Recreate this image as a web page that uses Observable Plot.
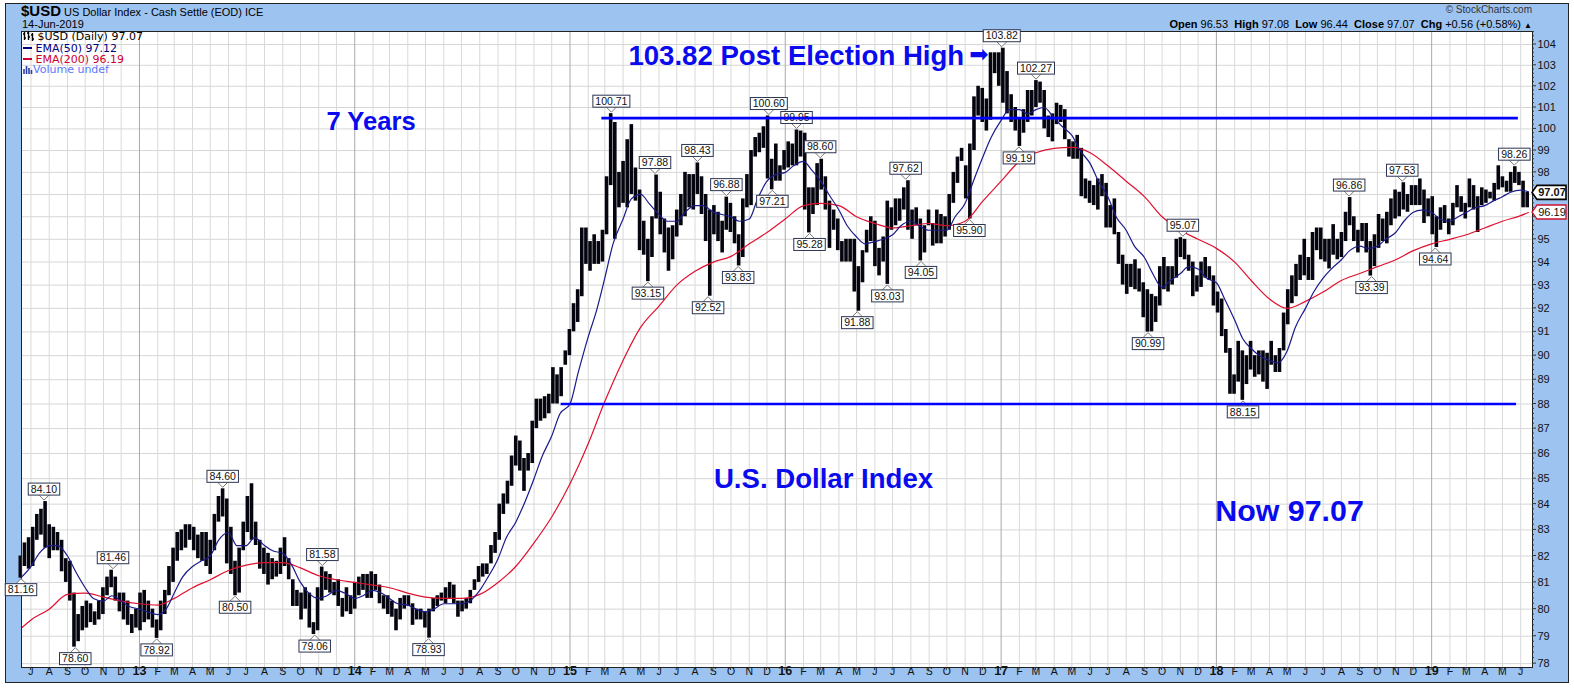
<!DOCTYPE html>
<html>
<head>
<meta charset="utf-8">
<script src="https://cdn.jsdelivr.net/npm/d3@7"></script>
<script src="https://cdn.jsdelivr.net/npm/@observablehq/plot@0.6"></script>
<style>
html,body{margin:0;padding:0;background:#fff;}
#wrap{position:relative;width:1574px;height:688px;overflow:hidden;font-family:"Liberation Sans",Arial,sans-serif;}
#band{position:absolute;left:5px;top:3px;width:1562px;height:678px;background:#9dc3f0;border:1px solid #222;}
#chart{position:absolute;left:0;top:0;}
.hd{position:absolute;white-space:nowrap;color:#000;}
.lg{position:absolute;white-space:nowrap;font-family:"DejaVu Sans",sans-serif;font-size:11px;line-height:11px;}
</style>
</head>
<body>
<div id="wrap">
  <div id="band"></div>
  <div id="chart"></div>
  <div class="hd" style="left:21px;top:3px;font-size:11px;line-height:16px;"><b style="font-size:15px;">$USD</b> US Dollar Index - Cash Settle (EOD) ICE</div>
  <div class="hd" style="left:22px;top:18px;font-size:11px;line-height:13px;">14-Jun-2019</div>
  <div class="hd" style="right:42px;top:4px;font-size:10px;line-height:12px;color:#333;">&#169; StockCharts.com</div>
  <div class="hd" style="right:42px;top:18px;font-size:11px;line-height:13px;"><b>Open</b> 96.53 &nbsp;<b>High</b> 97.08 &nbsp;<b>Low</b> 96.44 &nbsp;<b>Close</b> 97.07 &nbsp;<b>Chg</b> +0.56 (+0.58%) <span style="font-size:8px">&#9650;</span></div>
  <div class="lg" style="left:23px;top:31px;color:#000;"><svg width="11" height="10" style="vertical-align:-1px"><path d="M1.5 1v8M0 3h1.5M1.5 7h1.5M5.5 0v9M4 2h1.5M5.5 6h1.5M9.5 2v8M8 4h1.5M9.5 8h1.5" stroke="#000" stroke-width="1.4" fill="none"/></svg> $USD (Daily) 97.07</div>
  <div class="lg" style="left:23px;top:43px;color:#000080;"><span style="display:inline-block;width:9px;height:2px;background:#000080;vertical-align:3px"></span> EMA(50) 97.12</div>
  <div class="lg" style="left:23px;top:54px;color:#cc0033;"><span style="display:inline-block;width:9px;height:2px;background:#cc0033;vertical-align:3px"></span> EMA(200) 96.19</div>
  <div class="lg" style="left:23px;top:64px;color:#5a78ff;"><svg width="10" height="9" style="vertical-align:-1px"><path d="M1 9V4M3.5 9V1M6 9V3M8.5 9V5" stroke="#2a3ea8" stroke-width="1.6"/></svg>Volume undef</div>
</div>
<script>
const D = (y, m, d) => new Date(Date.UTC(y, m - 1, d));

// ---- tick labels ----
const yTicks = [78,79,80,81,82,83,84,85,86,87,88,89,90,91,92,93,94,95,96,97,98,99,100,101,102,103,104];
const monthLetters = ["J","F","M","A","M","J","J","A","S","O","N","D"];

// ---- weekly low/high of $USD (week ending Friday) ----
const bars2012 = [[81.16,82.0],[81.6,82.5],[81.5,82.7],[81.6,83.1],[82.6,83.6],[82.8,83.8],[82.3,84.10],[81.9,83.2],[82.2,83.1],[82.2,82.9],[81.4,82.6],[81.0,81.9],[80.3,81.8],[78.60,80.6],[78.8,79.8],[79.2,80.1],[79.3,80.3],[79.5,80.2],[79.4,79.9],[79.6,80.3],[79.8,80.8],[80.5,81.2],[80.8,81.46],[80.3,81.2],[79.9,80.6],[79.6,80.6],[79.4,80.3],[79.1,79.8],[79.3,80.0]];
const bars2013 = [[79.2,80.6],[79.5,80.7],[79.6,80.3],[79.3,80.0],[78.92,79.6],[79.2,80.3],[79.8,80.7],[80.5,81.6],[81.0,82.3],[81.8,82.9],[82.2,83.0],[82.3,83.2],[82.6,83.2],[82.2,83.1],[81.9,82.8],[81.8,82.9],[81.6,82.9],[81.3,82.6],[82.2,83.6],[83.3,84.3],[83.5,84.60],[81.7,84.2],[81.3,83.1],[80.50,81.8],[80.6,82.3],[82.2,83.3],[82.9,84.3],[82.6,84.8],[82.4,83.3],[81.5,82.6],[81.3,82.3],[80.9,82.1],[81.1,81.9],[81.2,81.8],[81.3,82.3],[81.6,82.7],[81.1,81.9],[80.1,81.1],[80.1,80.7],[79.6,80.6],[80.0,80.8],[79.3,80.6],[79.06,79.5],[79.2,80.8],[80.3,81.58],[80.7,81.4],[80.6,81.3],[80.5,81.0],[80.1,81.1],[79.7,80.4],[79.9,80.8],[79.8,80.5]];
const bars2014 = [[80.0,81.0],[80.5,81.2],[80.7,81.3],[80.4,81.3],[80.4,81.4],[80.7,81.3],[80.2,80.9],[80.0,80.5],[79.8,80.5],[79.7,80.3],[79.2,80.0],[79.6,80.4],[80.0,80.5],[80.1,80.5],[79.4,80.2],[79.6,80.0],[79.6,80.0],[79.3,79.9],[78.93,80.0],[79.9,80.4],[80.1,80.5],[80.3,80.6],[80.2,80.8],[80.4,81.0],[80.2,80.9],[79.7,80.3],[79.9,80.3],[80.0,80.4],[80.2,80.7],[80.7,81.1],[81.0,81.6],[81.2,81.7],[81.3,81.7],[81.7,82.4],[82.1,82.9],[82.6,84.0],[83.6,84.4],[84.0,84.9],[84.7,85.9],[85.5,86.7],[85.3,86.5],[84.5,85.8],[85.3,86.0],[85.6,87.3],[87.0,88.2],[87.3,88.2],[87.4,88.3],[87.6,88.4],[88.0,89.5],[88.0,89.2],[88.3,89.5],[89.6,90.2]];
const bars2015 = [[90.0,91.1],[91.0,92.2],[91.4,92.8],[92.5,95.5],[93.9,95.5],[93.6,94.9],[93.9,95.2],[93.9,94.9],[94.0,95.4],[95.2,97.8],[97.4,100.71],[95.0,100.3],[96.4,98.0],[96.6,98.5],[96.4,99.5],[97.0,100.2],[96.7,98.2],[94.5,97.2],[94.3,95.8],[93.15,95.0],[94.2,96.0],[95.9,97.88],[95.2,97.1],[94.4,95.9],[93.6,95.5],[94.1,95.6],[95.1,96.3],[95.6,97.0],[96.0,98.0],[96.4,97.9],[96.3,97.9],[97.0,98.43],[96.1,97.8],[94.9,97.0],[92.52,96.3],[95.2,96.5],[94.9,96.2],[94.4,95.8],[95.4,96.88],[95.3,96.6],[94.8,96.0],[93.83,95.2],[94.2,96.8],[96.4,97.9],[96.5,99.0],[98.7,99.6],[98.9,99.8],[99.1,100.1],[97.7,100.60],[97.21,98.6],[97.6,99.3],[97.6,98.3]];
const bars2016 = [[98.1,99.0],[98.2,99.4],[98.3,99.3],[98.3,99.95],[98.7,99.9],[96.3,99.8],[95.28,97.3],[96.1,97.3],[96.5,98.4],[97.2,98.60],[96.3,97.8],[94.6,96.7],[95.4,96.3],[94.5,95.9],[94.0,94.9],[94.0,95.0],[94.0,95.0],[92.7,95.0],[91.88,93.8],[93.1,94.5],[94.4,95.4],[94.9,96.0],[93.8,95.8],[93.4,94.6],[94.0,95.1],[93.03,96.7],[95.4,96.4],[95.6,96.8],[95.8,96.8],[96.3,97.3],[95.4,97.62],[95.0,96.3],[95.6,96.4],[94.05,95.9],[94.4,95.6],[95.6,96.3],[94.7,95.7],[94.8,96.3],[94.8,96.1],[95.1,96.0],[95.4,97.0],[96.6,98.0],[97.5,98.7],[98.5,99.1],[96.8,98.3],[95.90,99.3],[99.0,101.5],[100.6,102.0],[100.3,101.9],[99.9,101.4],[100.4,103.6],[102.6,103.6],[102.0,103.6]];
const bars2017 = [[101.2,103.82],[100.7,102.7],[100.3,101.6],[99.9,101.0],[99.19,100.5],[99.8,100.9],[100.3,101.8],[100.6,101.8],[101.0,102.27],[101.2,102.2],[100.0,101.8],[99.6,100.6],[99.4,100.7],[100.2,101.2],[100.3,101.1],[99.5,100.9],[98.7,99.5],[98.6,99.4],[98.6,99.7],[96.9,99.1],[96.8,97.7],[96.6,97.6],[96.5,97.4],[96.3,97.7],[96.9,97.9],[95.5,97.5],[95.5,96.5],[95.2,96.8],[93.9,95.3],[93.0,94.3],[92.6,93.9],[92.9,93.9],[92.8,94.1],[92.7,93.7],[91.6,93.1],[90.99,92.8],[91.0,92.6],[91.4,92.5],[92.1,93.8],[92.8,94.2],[92.7,93.8],[93.0,93.8],[93.3,95.0],[94.2,95.07],[94.1,95.0],[93.6,94.3],[92.5,94.0],[92.7,93.4],[92.9,94.0],[93.3,94.2],[93.2,93.8],[92.1,93.4]];
const bars2018 = [[91.8,92.7],[90.8,92.4],[90.1,91.1],[88.4,90.3],[88.4,89.2],[88.9,90.6],[88.15,90.2],[88.8,90.0],[89.4,90.6],[89.1,90.0],[89.2,90.2],[88.9,90.2],[88.6,90.1],[89.6,90.6],[89.3,90.0],[89.3,90.3],[90.2,91.8],[91.3,92.8],[92.2,93.4],[92.5,93.9],[93.2,94.3],[93.4,95.0],[93.2,94.2],[93.2,95.3],[94.5,95.5],[94.1,95.5],[94.0,95.0],[93.7,95.0],[94.3,95.65],[94.1,95.0],[94.2,95.3],[94.9,96.2],[95.6,96.86],[94.9,96.0],[94.4,95.4],[94.9,95.7],[94.4,95.7],[93.39,94.9],[93.8,95.2],[94.6,96.1],[94.9,95.9],[94.8,96.2],[95.6,96.8],[95.9,97.2],[96.0,97.1],[96.3,97.53],[96.2,97.0],[96.5,97.4],[96.5,97.4],[96.5,97.7],[95.7,97.2],[96.0,96.8]];
const bars2019 = [[95.2,96.9],[94.64,96.0],[95.4,96.4],[95.7,96.5],[95.2,95.9],[95.6,96.6],[96.4,97.4],[96.2,96.9],[95.9,96.6],[96.4,97.7],[96.3,97.4],[95.3,96.9],[96.5,97.3],[96.6,97.2],[96.8,97.1],[96.7,97.5],[97.2,98.3],[97.3,97.8],[97.1,97.6],[97.1,98.0],[97.5,98.26],[97.4,98.0],[96.4,97.6],[96.4,97.1]];

// ---- EMA(50): 15-Jun-2012, then 1st & 15th of each month, last 14-Jun-2019 ----
const ema50 = [81.2,
  81.6,82.1, 82.4,82.4, 82.0,81.4, 80.8,80.4, 80.3,80.5, 80.3,80.1,
  80.0,79.9, 79.8,80.0, 80.6,81.2, 81.6,81.8, 82.0,82.6, 82.9,82.4, 82.4,82.7, 82.4,82.2, 82.1,81.7, 81.0,80.6, 80.4,80.5, 80.7,80.6,
  80.4,80.5, 80.7,80.6, 80.4,80.2, 80.15,80.0, 79.9,80.0, 80.2,80.2, 80.2,80.3, 80.7,81.2, 81.9,82.7, 83.3,84.0, 85.0,85.9, 86.7,87.6,
  88.0,89.3, 90.8,91.9, 93.3,94.8, 95.9,96.8, 97.0,96.6, 96.1,95.8, 95.8,96.2, 96.5,96.5, 96.2,96.1, 96.0,95.8, 95.9,96.8, 97.6,97.9,
  98.0,98.3, 98.5,98.1, 97.6,97.0, 96.3,95.6, 95.1,94.8, 94.9,95.0, 95.2,95.6, 95.8,95.6, 95.4,95.4, 95.4,96.0, 96.6,97.6, 98.7,99.6,
  100.4,100.9, 100.9,100.7, 100.9,101.0, 100.5,100.1, 99.7,99.0, 98.4,97.6, 96.9,96.0, 95.4,94.7, 94.2,93.5, 92.9,93.2, 93.5,93.8, 93.7,93.3,
  93.1,92.4, 91.5,90.7, 90.3,90.0, 89.8,89.7, 90.2,91.2, 92.0,92.7, 93.3,93.7, 94.1,94.5, 94.7,94.6, 94.7,95.0, 95.3,95.8, 96.2,96.3,
  96.2,95.9, 95.8,96.0, 96.2,96.4, 96.5,96.7, 96.9,97.1, 97.2,97.12];

// ---- EMA(200): 15-Jun-2012, then 1st of each month, last 14-Jun-2019 ----
const ema200 = [79.3,
  79.6,80.0,80.55,80.6,80.45,80.3,
  80.2,80.15,80.4,80.8,81.1,81.45,81.65,81.75,81.75,81.55,81.25,81.1,
  81.0,80.9,80.8,80.6,80.45,80.4,80.4,80.55,81.0,81.6,82.5,83.5,
  84.8,86.4,88.1,89.8,91.2,92.1,93.0,93.6,94.0,94.25,94.8,95.3,
  95.9,96.5,96.6,96.5,96.0,95.7,95.5,95.6,95.7,95.6,95.8,96.7,
  97.6,98.5,98.9,99.1,99.15,98.9,98.3,97.6,96.9,96.0,95.4,95.0,
  94.6,94.0,93.2,92.4,92.0,92.3,92.7,93.2,93.5,93.8,94.1,94.5,
  94.8,95.0,95.2,95.5,95.8,96.05,
  96.19];

// ---- labelled highs / lows ----
const peakDates = ["2012-06-15","2012-07-24","2012-09-15","2012-11-18","2013-01-31","2013-05-23","2013-06-13","2013-10-26","2013-11-08","2014-05-07","2015-03-13","2015-05-14","2015-05-26","2015-08-06","2015-08-24","2015-09-24","2015-10-14","2015-12-05","2015-12-11","2016-01-21","2016-02-12","2016-03-01","2016-05-03","2016-06-23","2016-07-24","2016-08-19","2016-11-09","2017-01-03","2017-02-01","2017-03-02","2017-09-08","2017-11-06","2018-02-16","2018-08-15","2018-09-22","2018-11-13","2019-01-08","2019-05-22"];
const peakValues = [81.16,84.10,78.60,81.46,78.92,84.60,80.50,79.06,81.58,78.93,100.71,93.15,97.88,98.43,92.52,96.88,93.83,100.60,97.21,99.95,95.28,98.60,91.88,93.03,97.62,94.05,95.90,103.82,99.19,102.27,90.99,95.07,88.15,96.86,93.39,97.53,94.64,98.26];
const peakSide = ["b","a","b","a","b","a","b","b","a","b","a","b","a","a","b","a","b","a","b","a","b","a","b","b","a","b","b","a","b","a","b","a","b","a","b","a","b","a"];

// ---- trend lines ----
const levelValues = [100.5, 88.0];
const levelStart = ["2015-02-24", "2014-12-17"];
const levelEnd = ["2019-05-28", "2019-05-25"];

// ---- annotations ----
const annoText = ["103.82 Post Election High", "7 Years", "U.S. Dollar Index", "Now 97.07"];
const annoDate = ["2015-04-10", "2013-11-14", "2015-09-02", "2017-12-30"];
const annoValue = [103.42, 100.34, 84.97, 83.71];
const annoSize = [27.6, 25.6, 27.6, 30.4];
const arrowDate = "2016-11-08";
const arrowValue = 103.5;

const lastClose = 97.07;
const lastEma200 = 96.19;

// ---- build tables ----
const fridays = d3.utcFriday.range(D(2012,6,15), D(2019,6,15));
const allBars = [...bars2012, ...bars2013, ...bars2014, ...bars2015, ...bars2016, ...bars2017, ...bars2018, ...bars2019];
if (allBars.length !== fridays.length) throw new Error("bars " + allBars.length + " vs weeks " + fridays.length);
const bars = allBars.map((p, i) => ({date: d3.utcDay.offset(fridays[i], -2), lo: p[0], hi: p[1]}));

const months = d3.utcMonth.range(D(2012,7,1), D(2019,7,1));
const ema50Dates = [D(2012,6,15)];
for (const m of months) { ema50Dates.push(m); ema50Dates.push(d3.utcDay.offset(m, 14)); }
ema50Dates[ema50Dates.length - 1] = D(2019,6,14);
const ema200Dates = [D(2012,6,15), ...months, D(2019,6,14)];
if (ema50.length !== ema50Dates.length) throw new Error("ema50 " + ema50.length + " vs " + ema50Dates.length);
if (ema200.length !== ema200Dates.length) throw new Error("ema200 " + ema200.length + " vs " + ema200Dates.length);
const ema50Data = ema50.map((v, i) => ({date: ema50Dates[i], v}));
const ema200Data = ema200.map((v, i) => ({date: ema200Dates[i], v}));

const levels = levelValues.map((v, i) => ({y: v, x1: new Date(levelStart[i]), x2: new Date(levelEnd[i])}));
const annos = annoText.map((t, i) => ({t, date: new Date(annoDate[i]), v: annoValue[i], size: annoSize[i]}));
const peaks = peakValues.map((v, i) => ({date: new Date(peakDates[i]), v, side: peakSide[i]}));

const monthStarts = months;
const janStarts = months.filter(m => m.getUTCMonth() === 0);
const otherStarts = months.filter(m => m.getUTCMonth() !== 0);
// axis labels hidden behind the last-value boxes (as on the reference)
const shownTicks = yTicks.filter(t => Math.abs(Math.log(t / lastClose)) > 0.0035 && Math.abs(Math.log(t / lastEma200)) > 0.0035);

function overlay(index, scales, values, dims) {
  const x = scales.x, y = scales.y;
  const g = d3.create("svg:g");
  const bottom = dims.height - dims.marginBottom;
  const right = dims.width - dims.marginRight;
  for (const m of monthStarts) {
    g.append("line").attr("x1", x(m)).attr("x2", x(m)).attr("y1", bottom).attr("y2", bottom + 3)
      .attr("stroke", "#333").attr("stroke-width", 1);
  }
  for (let k = 780; k <= 1046; k += 2) {
    const yy = y(k / 10);
    const major = k % 10 === 0;
    g.append("line").attr("x1", right).attr("x2", right + (major ? 4 : 2)).attr("y1", yy).attr("y2", yy)
      .attr("stroke", "#333").attr("stroke-width", 1);
  }
  for (const p of peaks) {
    const px = x(p.date), py = y(p.v);
    const txt = p.v.toFixed(2);
    const w = txt.length * 5.5 + 4, h = 12;
    let by, wedge;
    if (p.side === "a") {
      by = py - 6 - h;
      wedge = `M${px - 5},${py - 6}L${px},${py - 1}L${px + 5},${py - 6}`;
    } else {
      by = py + 6;
      wedge = `M${px - 5},${py + 6}L${px},${py + 1}L${px + 5},${py + 6}`;
    }
    g.append("path").attr("d", wedge).attr("fill", "white").attr("stroke", "#777").attr("stroke-width", 1);
    g.append("rect").attr("x", px - w / 2).attr("y", by).attr("width", w).attr("height", h)
      .attr("fill", "white").attr("stroke", "#2c3552").attr("stroke-width", 1);
    g.append("text").attr("x", px).attr("y", by + h / 2).attr("dy", "0.35em").attr("text-anchor", "middle")
      .attr("font-family", "Liberation Sans, Arial, sans-serif").attr("font-size", 10.5).attr("fill", "#111").text(txt);
  }
  const markers = [{v: lastClose, stroke: "#000", sw: 1.6, weight: "bold"}, {v: lastEma200, stroke: "#d0102a", sw: 1.3, weight: "normal"}];
  for (const mk of markers) {
    const cy = y(mk.v);
    g.append("path").attr("d", `M${right},${cy}L${right + 5},${cy - 7}H${right + 34}V${cy + 7}H${right + 5}Z`)
      .attr("fill", "white").attr("stroke", mk.stroke).attr("stroke-width", mk.sw);
    g.append("text").attr("x", right + 20).attr("y", cy).attr("dy", "0.35em").attr("text-anchor", "middle")
      .attr("font-family", "Liberation Sans, Arial, sans-serif").attr("font-size", 11).attr("font-weight", mk.weight)
      .attr("fill", "#111").text(mk.v.toFixed(2));
  }
  return g.node();
}

const chart = Plot.plot({
  width: 1574,
  height: 688,
  marginLeft: 21,
  marginRight: 42,
  marginTop: 31,
  marginBottom: 21,
  style: {background: "transparent", fontFamily: "Liberation Sans, Arial, sans-serif", fontSize: "11px", color: "#111", overflow: "visible"},
  x: {type: "utc", domain: [D(2012,6,15), D(2019,6,21)], axis: null},
  y: {type: "log", domain: [77.86, 104.63], axis: null},
  marks: [
    Plot.frame({fill: "white"}),
    Plot.ruleY(yTicks, {stroke: "#d6d6d6", strokeWidth: 1}),
    Plot.ruleX(otherStarts, {stroke: "#d9d9d9", strokeWidth: 1}),
    Plot.ruleX(janStarts, {stroke: "#a9a9a9", strokeWidth: 1}),
    Plot.ruleX(bars, {x: "date", y1: "lo", y2: "hi", stroke: "#050510", strokeWidth: 3.6}),
    Plot.line(ema200Data, {x: "date", y: "v", stroke: "#e0102f", strokeWidth: 1.2, curve: "monotone-x"}),
    Plot.line(ema50Data, {x: "date", y: "v", stroke: "#1a1a8a", strokeWidth: 1.2, curve: "monotone-x"}),
    Plot.text(annos, {x: "date", y: "v", text: "t", textAnchor: "start", fontSize: "size", fontWeight: "bold", fill: "#0a0aee"}),
    Plot.text([{date: new Date(arrowDate), v: arrowValue}], {x: "date", y: "v", text: () => "\u27A1", textAnchor: "start", fontSize: 23, fill: "#0a0aee", fontFamily: "DejaVu Sans"}),
    Plot.frame({stroke: "#222", strokeWidth: 1}),
    Plot.text(shownTicks, {y: d => d, frameAnchor: "right", textAnchor: "start", dx: 5, text: d => String(d), fontSize: 11, fill: "#111"}),
    Plot.text(otherStarts, {x: d => d, frameAnchor: "bottom", dy: 7, text: d => monthLetters[d.getUTCMonth()], fontSize: 10.5, fill: "#111"}),
    Plot.text(janStarts, {x: d => d, frameAnchor: "bottom", dy: 7, text: d => String(d.getUTCFullYear() % 100), fontSize: 12.5, fontWeight: "bold", fill: "#111"}),
    overlay,
    Plot.ruleY(levels, {y: "y", x1: "x1", x2: "x2", stroke: "#0000ff", strokeWidth: 2.6})
  ]
});
document.getElementById("chart").appendChild(chart);
</script>
</body>
</html>
